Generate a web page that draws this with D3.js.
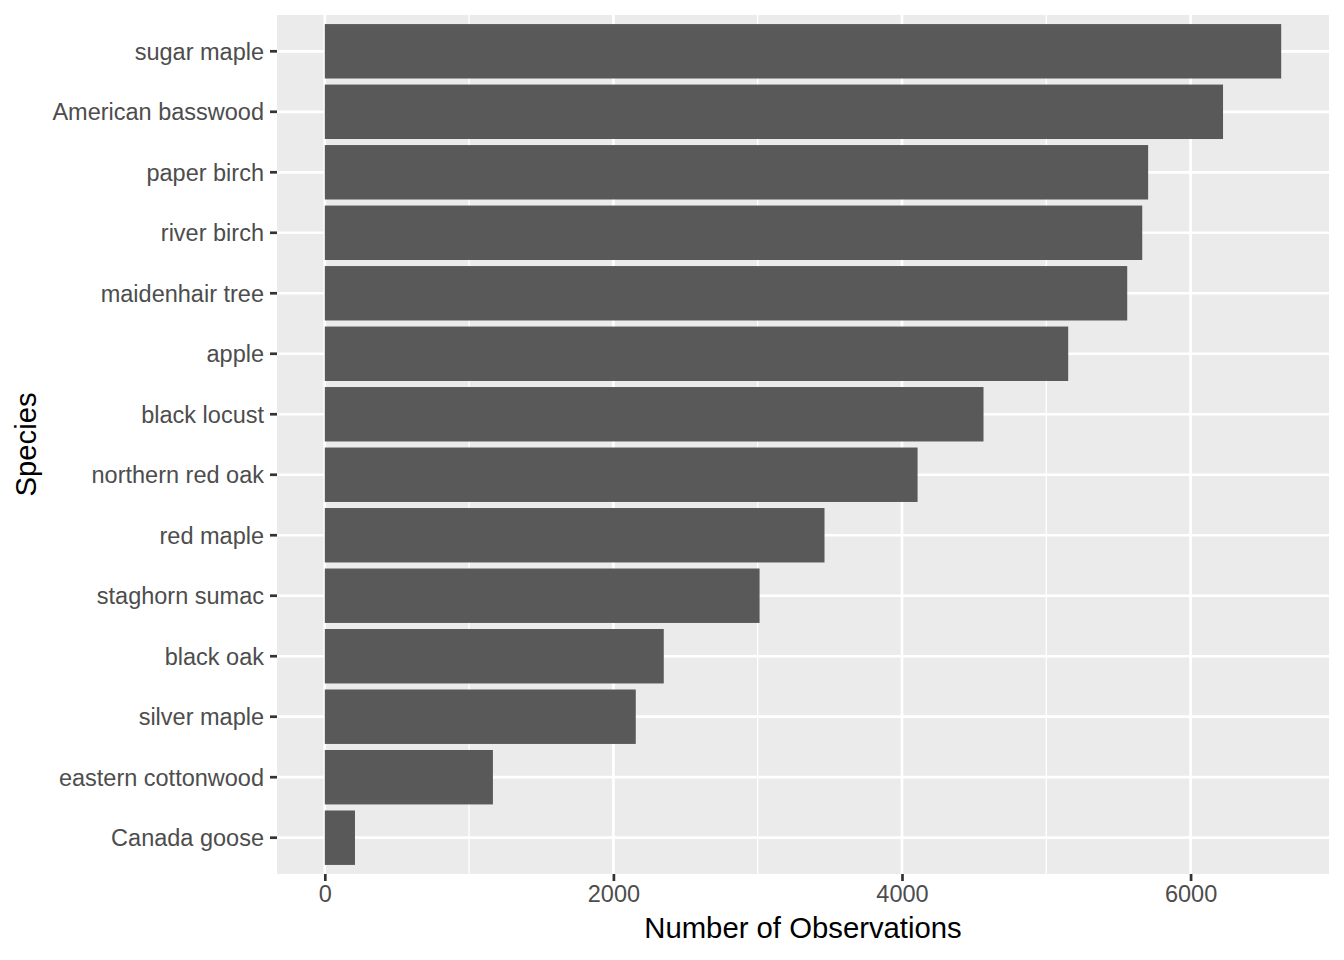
<!DOCTYPE html>
<html>
<head>
<meta charset="utf-8">
<script src="https://cdn.jsdelivr.net/npm/d3@7"></script>
<style>
body { margin: 0; background: #fff; }
text { font-family: "Liberation Sans", Arial, sans-serif; }
</style>
</head>
<body>
<div id="chart"></div>
<script>
var w = 1344,
    h = 960;

// species, top to bottom
var species = ["sugar maple", "American basswood", "paper birch", "river birch",
  "maidenhair tree", "apple", "black locust", "northern red oak", "red maple",
  "staghorn sumac", "black oak", "silver maple", "eastern cottonwood", "Canada goose"];
var counts = [6628, 6225, 5706, 5665, 5561, 5152, 4565, 4108, 3463, 3013, 2349, 2155, 1165, 209];
var xMajor = [0, 2000, 4000, 6000];
var xMinor = [1000, 3000, 5000];

// panel edges ("top" is taken by window.top)
var pLeft = 277, pRight = 1329, pTop = 15, pBottom = 874;

var svg = d3.select("#chart")
  .append("svg")
  .attr("width", w)
  .attr("height", h);

var maxN = d3.max(counts);
var pad = maxN * 0.05;

var x = d3.scaleLinear()
  .domain([-pad, maxN + pad])
  .range([pLeft, pRight]);

var y = d3.scaleBand()
  .domain(species)
  .range([pTop, pBottom])
  .paddingInner(0.1)
  .paddingOuter(0.15);

// panel
svg.append("rect")
  .attr("x", pLeft).attr("y", pTop)
  .attr("width", pRight - pLeft).attr("height", pBottom - pTop)
  .attr("fill", "#EBEBEB");

// minor grid
svg.selectAll(".minor")
  .data(xMinor)
  .enter()
  .append("line")
  .attr("x1", function(d) { return x(d); })
  .attr("x2", function(d) { return x(d); })
  .attr("y1", pTop).attr("y2", pBottom)
  .attr("stroke", "#fff")
  .attr("stroke-width", 1.3);

// major grid
svg.selectAll(".majorx")
  .data(xMajor)
  .enter()
  .append("line")
  .attr("x1", function(d) { return x(d); })
  .attr("x2", function(d) { return x(d); })
  .attr("y1", pTop).attr("y2", pBottom)
  .attr("stroke", "#fff")
  .attr("stroke-width", 2.7);

svg.selectAll(".majory")
  .data(species)
  .enter()
  .append("line")
  .attr("x1", pLeft).attr("x2", pRight)
  .attr("y1", function(d) { return y(d) + y.bandwidth() / 2; })
  .attr("y2", function(d) { return y(d) + y.bandwidth() / 2; })
  .attr("stroke", "#fff")
  .attr("stroke-width", 2.7);

// bars
svg.selectAll(".bar")
  .data(species)
  .enter()
  .append("rect")
  .attr("x", x(0))
  .attr("y", function(d) { return y(d); })
  .attr("width", function(d, i) { return x(counts[i]) - x(0); })
  .attr("height", y.bandwidth())
  .attr("fill", "#595959");

// axes
var yAxis = svg.append("g")
  .attr("transform", "translate(" + pLeft + ",0)")
  .call(d3.axisLeft(y).tickSize(7).tickPadding(6));

var xAxis = svg.append("g")
  .attr("transform", "translate(0," + pBottom + ")")
  .call(d3.axisBottom(x).tickValues(xMajor).tickFormat(d3.format("d")).tickSize(7).tickPadding(4));

[yAxis, xAxis].forEach(function(g) {
  g.select(".domain").remove();
  g.selectAll(".tick line").attr("stroke", "#333333").attr("stroke-width", 2.7);
  g.selectAll(".tick text")
    .attr("fill", "#4D4D4D")
    .style("font-size", "23.5px")
    .style("font-family", "'Liberation Sans', Arial, sans-serif");
});
yAxis.selectAll(".tick text").attr("dy", "0.36em");

// titles
svg.append("text")
  .attr("x", (pLeft + pRight) / 2)
  .attr("y", 938)
  .attr("text-anchor", "middle")
  .attr("font-size", "29.3px")
  .attr("fill", "#000")
  .text("Number of Observations");

svg.append("text")
  .attr("transform", "translate(36," + ((pTop + pBottom) / 2) + ") rotate(-90)")
  .attr("text-anchor", "middle")
  .attr("font-size", "29.3px")
  .attr("fill", "#000")
  .text("Species");
</script>
</body>
</html>
